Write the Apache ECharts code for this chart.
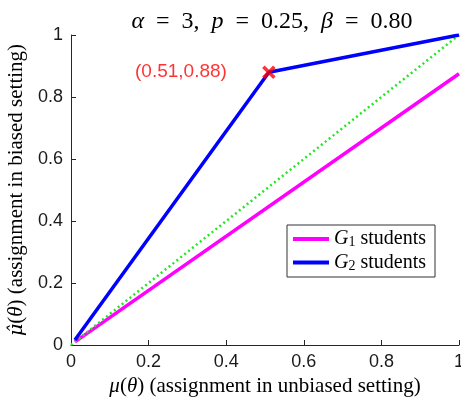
<!DOCTYPE html>
<html><head><meta charset="utf-8">
<script src="https://cdn.jsdelivr.net/npm/echarts@6/dist/echarts.min.js"></script>
<style>html,body{margin:0;padding:0;background:#fff}#c{width:461px;height:402px}</style>
</head><body><div id="c"></div>
<script>
const xTicks = [0, 0.2, 0.4, 0.6, 0.8, 1];
const g1X = [0.01, 1];
const g1Y = [0.01, 0.875];
const g2X = [0.01, 0.51, 1];
const g2Y = [0.016, 0.88, 1];
const diagX = [0, 1];
const diagY = [0, 1];
const markPoint = [0.51, 0.88];
const markLabel = '(0.51,0.88)';

const chart = echarts.init(document.getElementById('c'));
const serif = 'Liberation Serif';
const sans = 'Liberation Sans';
const sp = '\u2002';
const tickFmt = v => xTicks.includes(+v.toFixed(2)) ? String(+v.toFixed(2)) : '';
const nameStyle = {fontFamily: serif, fontSize: 21, color: '#000',
  rich: {i: {fontFamily: serif, fontStyle: 'italic', fontSize: 21, color: '#000'},
         h: {fontFamily: 'DejaVu Serif', fontStyle: 'italic', fontSize: 19, color: '#000'}}};
chart.setOption({
  animation: false,
  title: {
    text: '{i|α}' + sp + '=' + sp + '3,' + sp + '{i|p}' + sp + '=' + sp + '0.25,' + sp + '{i|β}' + sp + '=' + sp + '0.80',
    left: 267, top: 5, textAlign: 'center',
    textStyle: {fontFamily: serif, fontSize: 24, fontWeight: 'normal', color: '#000',
      rich: {i: {fontFamily: serif, fontStyle: 'italic', fontSize: 24, color: '#000'}}}
  },
  grid: {left: 71, right: 2, top: 35, bottom: 57, containLabel: false, outerBoundsMode: 'none'},
  legend: {
    left: 287, top: 225, orient: 'vertical', itemWidth: 36, itemHeight: 4, itemGap: 3,
    icon: 'rect',
    padding: [4, 9, 4, 6], borderColor: '#333', borderWidth: 1, backgroundColor: '#fff',
    data: ['G1', 'G2'],
    formatter: n => '{i|G}{s|' + n.slice(1) + '} students',
    textStyle: {fontFamily: serif, fontSize: 20, color: '#000',
      rich: {i: {fontFamily: serif, fontStyle: 'italic', fontSize: 20, color: '#000'},
             s: {fontFamily: serif, fontSize: 14, verticalAlign: 'bottom', padding: [7,0,0,0], color: '#000'}}}
  },
  xAxis: {
    type: 'value', min: 0, max: 1, interval: 0.2,
    axisLine: {lineStyle: {color: '#262626', width: 1}},
    axisTick: {inside: true, length: 5, lineStyle: {color: '#262626'}},
    splitLine: {show: false},
    axisLabel: {fontFamily: sans, fontSize: 18, color: '#1a1a1a', margin: 8, formatter: tickFmt},
    name: '{i|μ}({i|θ}) (assignment in unbiased setting)', nameLocation: 'middle', nameGap: 27,
    nameTextStyle: nameStyle
  },
  yAxis: {
    type: 'value', min: 0, max: 1, interval: 0.2,
    axisLine: {show: true, lineStyle: {color: '#262626', width: 1}},
    axisTick: {show: true, inside: true, length: 5, lineStyle: {color: '#262626'}},
    splitLine: {show: false},
    axisLabel: {fontFamily: sans, fontSize: 18, color: '#1a1a1a', margin: 8, formatter: tickFmt},
    name: '{h|μ̂}({i|θ}) (assignment in biased setting)', nameLocation: 'middle', nameGap: 36,
    nameTextStyle: nameStyle
  },
  series: [
    {name: 'diag', type: 'line', data: diagX.map((x, i) => [x, diagY[i]]), symbol: 'none',
     lineStyle: {color: '#22e822', width: 2.5, type: [2, 3]}, z: 3},
    {name: 'G1', type: 'line', data: g1X.map((x, i) => [x, g1Y[i]]), symbol: 'none',
     itemStyle: {color: '#ff00ff'}, lineStyle: {color: '#ff00ff', width: 3.5}, z: 2},
    {name: 'G2', type: 'line', data: g2X.map((x, i) => [x, g2Y[i]]), symbol: 'none',
     itemStyle: {color: '#0000ff'}, lineStyle: {color: '#0000ff', width: 3.5}, z: 4},
    {name: 'mark', type: 'scatter', data: [markPoint], symbol: 'path://M0,0 L1,1 M1,0 L0,1',
     symbolSize: 11, itemStyle: {color: 'none', borderColor: '#ff0000', borderWidth: 3.5}, z: 5,
     label: {show: true, position: 'left', distance: 34, formatter: markLabel,
       fontFamily: sans, fontSize: 19, color: '#ff0000'}}
  ]
});
</script></body></html>
